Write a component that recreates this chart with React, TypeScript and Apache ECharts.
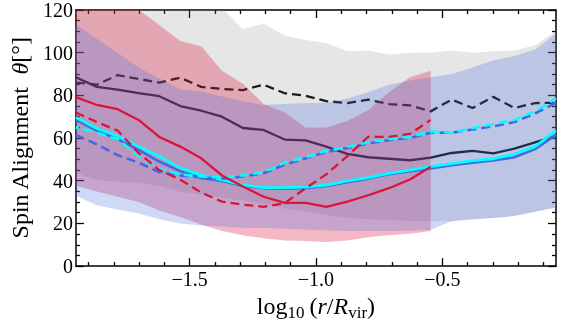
import React, { useEffect, useRef } from "react";
import * as echarts from "echarts";

// x positions of the radial bins, log10(r/Rvir)
const xs = [-1.95, -1.867, -1.785, -1.702, -1.62, -1.537, -1.454, -1.372, -1.289, -1.207, -1.124, -1.041,
  -0.959, -0.876, -0.793, -0.711, -0.628, -0.546, -0.463, -0.38, -0.298, -0.215, -0.133, -0.05];

const blackSolid = [88.5, 84, 82.7, 81, 79.6, 75, 72.8, 70, 64.7, 63.8, 59.3, 58.9, 56, 52.6, 51, 50.3, 49.6, 50.8, 53, 54, 52.8, 55, 58, 61];
const blackDashed = [86, 85, 89.5, 87.7, 86, 88.3, 84, 83, 82.5, 85, 81, 79.8, 77.3, 76.4, 78, 75.9, 75.3, 72.5, 78, 74.1, 79.3, 74.1, 76.4, 76.5];
const redSolid = [79.2, 75.5, 73.5, 68.5, 60.5, 56, 50.5, 42.5, 37.3, 32.5, 29.6, 29.6, 27.8, 30.2, 33.2, 36.5, 40.6, 46.6];
const redDashed = [72, 67.5, 63.5, 53, 45, 40.5, 34.5, 30.2, 28.8, 27.8, 29.5, 36.5, 43, 51.5, 60.6, 60.5, 62, 68.5];
const blueSolid = [68.5, 63.5, 59.5, 54.5, 49, 44.5, 41.3, 39.9, 37.5, 36.5, 36.3, 36.5, 37.5, 39.3, 41, 43, 44.5, 45.8, 47.3, 48.5, 49.5, 51, 54.8, 61.5];
const cyanSolid = [69.6, 64.5, 61, 56, 51.5, 46, 42.6, 40.4, 38, 36.8, 36.8, 37, 38, 39.9, 41.5, 43.5, 45, 46.6, 48, 49.4, 50.3, 52.5, 56, 63.5];
const blueDashed = [61.5, 57, 52, 48.5, 44, 42.5, 41.5, 41, 42, 43.5, 47.5, 50.5, 53.5, 55.3, 57.5, 59, 60, 62.5, 62.5, 64, 65.5, 67.5, 71.5, 76.5];
const cyanDashed = [65, 62.5, 59.5, 51.5, 45.5, 43, 42, 41.5, 42.5, 44, 48.5, 51, 54, 55.8, 58, 59.5, 60.5, 63, 62.5, 64.7, 66.5, 68.5, 72.5, 78.5];

// scatter bands (lower / upper)
const grayLo = [43.6, 40.3, 39.5, 39, 37.5, 34.8, 33.7, 32, 30.6, 29.2, 27, 25.5, 24, 22.5, 22, 21.5, 21.3, 21, 21, 22, 22.5, 23.5, 25.5, 27.5];
const grayHi = [130, 130, 130, 130, 130, 130, 128, 121, 111, 113.7, 108, 106, 104.5, 100.7, 101, 99, 100, 100, 101, 100, 100.7, 101, 103.5, 110];
const redLo = [37.6, 35, 32.5, 30, 26, 23, 19.5, 16.5, 14.5, 13, 12, 11.8, 11.3, 12, 13.5, 14.5, 15.2, 16.5];
const redHi = [130, 130, 130, 120, 113, 105.5, 103, 91.5, 85.5, 76, 72, 65, 65, 68, 73, 81.5, 88.5, 91.5];
const blueLo = [33, 28.5, 26.5, 24.7, 22, 20, 19, 18.5, 18, 18, 17.5, 17, 16.8, 16.5, 16.5, 16.5, 16.6, 17, 21, 22, 22.5, 23.5, 25.5, 27.5];
const blueHi = [113.3, 106.5, 100, 93, 88, 82.7, 81.8, 79.5, 77.3, 75.5, 76, 76.4, 76.5, 78.5, 81.5, 85, 87, 88.5, 90, 93, 96.5, 98.4, 101.5, 109];

const majorX = [-1.5, -1.0, -0.5];
const minorX = [-1.9, -1.8, -1.7, -1.6, -1.4, -1.3, -1.2, -1.1, -0.9, -0.8, -0.7, -0.6, -0.4, -0.3, -0.2, -0.1];

const FONT = "'Liberation Serif', 'DejaVu Serif', serif";

function band(lo: number[], hi: number[], color: string) {
  return {
    type: "custom",
    z: 2,
    clip: true,
    silent: true,
    data: lo.map((v, i) => [xs[i], v, hi[i]]),
    encode: { x: 0, y: [1, 2] },
    renderItem: (params: any, api: any) => {
      if (params.dataIndex !== 0) return null;
      const pts: number[][] = [];
      for (let i = 0; i < hi.length; i++) pts.push(api.coord([xs[i], hi[i]]));
      for (let i = lo.length - 1; i >= 0; i--) pts.push(api.coord([xs[i], lo[i]]));
      return { type: "polygon", shape: { points: pts }, style: { fill: color } };
    },
  };
}

function line(vals: number[], color: string, width: number, dashed: boolean, z: number, dashOffset = 0) {
  return {
    type: "line",
    data: vals.map((v, i) => [xs[i], v]),
    symbol: "none",
    showSymbol: false,
    silent: true,
    z,
    lineStyle: { color, width, type: dashed ? [9, 5] : "solid", dashOffset, cap: "butt", join: "round" },
  };
}

const axisLineStyle = { color: "#000", width: 1.5 };
const tickStyle = { color: "#000", width: 1.3 };

function xAxisDef(position: string, values: number[], len: number, withLabels: boolean, withLine: boolean) {
  const ax: any = {
    type: "value",
    position,
    min: -1.95,
    max: -0.05,
    axisLine: { show: withLine, onZero: false, lineStyle: axisLineStyle },
    axisTick: { show: true, inside: true, length: len, customValues: values, lineStyle: tickStyle },
    axisLabel: withLabels
      ? {
          show: true,
          customValues: values,
          formatter: (v: number) => v.toFixed(1).replace("-", "\u2212"),
          fontFamily: FONT,
          fontSize: 20,
          color: "#000",
          margin: 3,
        }
      : { show: false },
    splitLine: { show: false },
  };
  return ax;
}

function yAxisDef(position: string, withLabels: boolean) {
  return {
    type: "value",
    position,
    min: 0,
    max: 120,
    interval: 20,
    axisLine: { show: true, onZero: false, lineStyle: axisLineStyle },
    axisTick: { show: true, inside: true, length: 8, lineStyle: tickStyle },
    minorTick: { show: true, splitNumber: 4, length: 4, lineStyle: tickStyle },
    axisLabel: withLabels
      ? { show: true, fontFamily: FONT, fontSize: 20, color: "#000", margin: 3 }
      : { show: false },
    splitLine: { show: false },
    minorSplitLine: { show: false },
  };
}

export default function App() {
  const ref = useRef<HTMLDivElement>(null);
  useEffect(() => {
    if (!ref.current) return;
    const chart = echarts.init(ref.current, undefined, { renderer: "svg" });
    const xMain: any = xAxisDef("bottom", majorX, 8, true, true);
    xMain.name = "{a|log}{s|10}{p|(}{i|r}{a|/}{i|R}{s|vir}{a|)}";
    xMain.nameLocation = "middle";
    xMain.nameGap = 18;
    xMain.nameTextStyle = {
      fontFamily: FONT,
      color: "#000",
      rich: {
        a: { fontFamily: FONT, fontSize: 24, lineHeight: 30, color: "#000" },
        p: { fontFamily: FONT, fontSize: 24, lineHeight: 30, color: "#000", padding: [0, 0, 0, 5] },
        i: { fontFamily: FONT, fontSize: 24, lineHeight: 30, fontStyle: "italic", color: "#000" },
        s: { fontFamily: FONT, fontSize: 17, lineHeight: 17, verticalAlign: "bottom", color: "#000" },
      },
    };
    const yMain: any = yAxisDef("left", true);
    yMain.name = "{a|Spin Alignment}{i|\u03b8}{a|[\u00b0]}";
    yMain.nameLocation = "middle";
    yMain.nameRotate = 90;
    yMain.nameGap = 27;
    yMain.nameTextStyle = {
      fontFamily: FONT,
      color: "#000",
      rich: {
        a: { fontFamily: FONT, fontSize: 24, color: "#000" },
        i: { fontFamily: FONT, fontSize: 24, fontStyle: "italic", color: "#000", padding: [0, 0, 0, 12] },
      },
    };

    chart.setOption({
      animation: false,
      grid: { left: 70, right: 30, top: 10, bottom: 49, containLabel: false },
      xAxis: [
        xMain,
        xAxisDef("bottom", minorX, 4, false, false),
        xAxisDef("top", majorX, 8, false, true),
        xAxisDef("top", minorX, 4, false, false),
      ],
      yAxis: [yMain, yAxisDef("right", false)],
      series: [
        line(blackSolid, "#000", 2.3, false, 1),
        line(blackDashed, "#000", 2.3, true, 1),
        band(grayLo, grayHi, "rgba(128,128,128,0.2)"),
        band(redLo, redHi, "rgba(220,20,60,0.3)"),
        band(blueLo, blueHi, "rgba(65,105,225,0.25)"),
        line(blueSolid, "#4169e1", 2.6, false, 3),
        line(cyanSolid, "#00ffff", 2.8, false, 3),
        line(blueDashed, "#4169e1", 2.6, true, 3),
        line(cyanDashed, "#00ffff", 2.6, true, 3, 6),
        line(redSolid, "#dc143c", 2.3, false, 4),
        line(redDashed, "#dc143c", 2.3, true, 4),
      ],
    });
    return () => chart.dispose();
  }, []);
  return <div ref={ref} style={{ position: "fixed", left: 0, top: 0, width: 586, height: 326 }} />;
}
